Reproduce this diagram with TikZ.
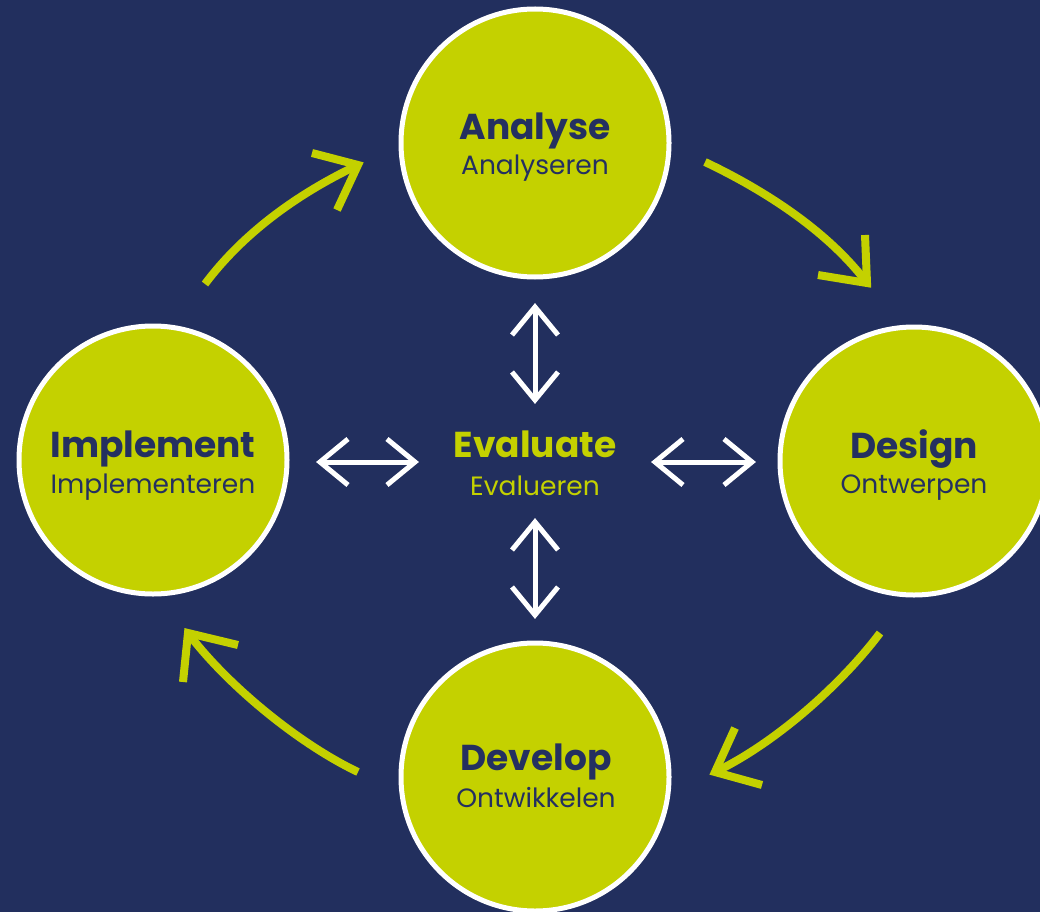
\documentclass[tikz,border=0pt]{standalone}
\usepackage{fontspec}
\setmainfont{Poppins}
\definecolor{navy}{RGB}{34,47,94}
\definecolor{lime}{RGB}{196,209,0}
\definecolor{ink}{RGB}{36,48,96}
\begin{document}
\begin{tikzpicture}[x=1pt,y=-1pt,
  phase/.style={circle, fill=lime, draw=white, line width=5pt, minimum size=268pt, inner sep=0pt},
  title/.style={anchor=base, font=\fontsize{36}{40}\selectfont\bfseries, text=ink, inner sep=0pt},
  sub/.style={anchor=base, font=\fontsize{26.5}{30}\selectfont, text=ink, inner sep=0pt},
  cycle/.style={draw=lime, line width=8pt, line cap=butt, line join=miter},
  link/.style={draw=white, line width=5pt, line cap=butt, line join=miter},
  ]
\useasboundingbox (0,0) rectangle (1040,912);
\clip (0,0) rectangle (1040,912);
\fill[navy] (0,0) rectangle (1040,912);

% phases
\node[phase] (analyse) at (535,143) {};
\node[phase] (implement) at (153,460) {};
\node[phase] (design) at (914,461) {};
\node[phase] (develop) at (535,777) {};

\node[title] (analyse-t) at (535,140) {Analyse};
\node[sub] (analyse-s) at (535,175) {Analyseren};
\node[title] (implement-t) at (153,457) {Implement};
\node[sub] (implement-s) at (153,493) {Implementeren};
\node[title] (design-t) at (914,458) {Design};
\node[sub] (design-s) at (914,493) {Ontwerpen};
\node[title] (develop-t) at (536,770) {Develop};
\node[sub] (develop-s) at (536,807) {Ontwikkelen};
\node[title, text=lime] (evaluate-t) at (535,457) {Evaluate};
\node[sub, text=lime] (evaluate-s) at (535,495) {Evalueren};

% cycle arrows
\coordinate (s1) at (205,284); \coordinate (t1) at (358,165);
\coordinate (a1) at (312,153); \coordinate (b1) at (337,210);
\draw[cycle] (s1) .. controls (244,232) and (299,193) .. (t1);
\draw[cycle] (a1) -- (t1) -- (b1);

\coordinate (s2) at (705,162); \coordinate (t2) at (867,283);
\coordinate (a2) at (865,235); \coordinate (b2) at (818,275);
\draw[cycle] (s2) .. controls (764,190) and (828,231) .. (t2);
\draw[cycle] (a2) -- (t2) -- (b2);

\coordinate (s3) at (880,633); \coordinate (t3) at (715,772);
\coordinate (a3) at (735,728); \coordinate (b3) at (762,785);
\draw[cycle] (s3) .. controls (841,685) and (774,744) .. (t3);
\draw[cycle] (a3) -- (t3) -- (b3);

\coordinate (s4) at (358,772); \coordinate (t4) at (188,633);
\coordinate (a4) at (183,682); \coordinate (b4) at (238,645);
\draw[cycle] (s4) .. controls (299,744) and (227,685) .. (t4);
\draw[cycle] (a4) -- (t4) -- (b4);

% evaluate links
\coordinate (up1) at (535,307); \coordinate (up2) at (535,400);
\draw[link] (up1) -- (up2);
\draw[link] ([shift={(-23,28)}]up1) -- (up1) -- ([shift={(23,28)}]up1);
\draw[link] ([shift={(-23,-28)}]up2) -- (up2) -- ([shift={(23,-28)}]up2);

\coordinate (dn1) at (535,522); \coordinate (dn2) at (535,615);
\draw[link] (dn1) -- (dn2);
\draw[link] ([shift={(-23,28)}]dn1) -- (dn1) -- ([shift={(23,28)}]dn1);
\draw[link] ([shift={(-23,-28)}]dn2) -- (dn2) -- ([shift={(23,-28)}]dn2);

\coordinate (lf1) at (320,462); \coordinate (lf2) at (415,462);
\draw[link] (lf1) -- (lf2);
\draw[link] ([shift={(28,-23)}]lf1) -- (lf1) -- ([shift={(28,23)}]lf1);
\draw[link] ([shift={(-28,-23)}]lf2) -- (lf2) -- ([shift={(-28,23)}]lf2);

\coordinate (rt1) at (655,462); \coordinate (rt2) at (752,462);
\draw[link] (rt1) -- (rt2);
\draw[link] ([shift={(28,-23)}]rt1) -- (rt1) -- ([shift={(28,23)}]rt1);
\draw[link] ([shift={(-28,-23)}]rt2) -- (rt2) -- ([shift={(-28,23)}]rt2);
\end{tikzpicture}
\end{document}
